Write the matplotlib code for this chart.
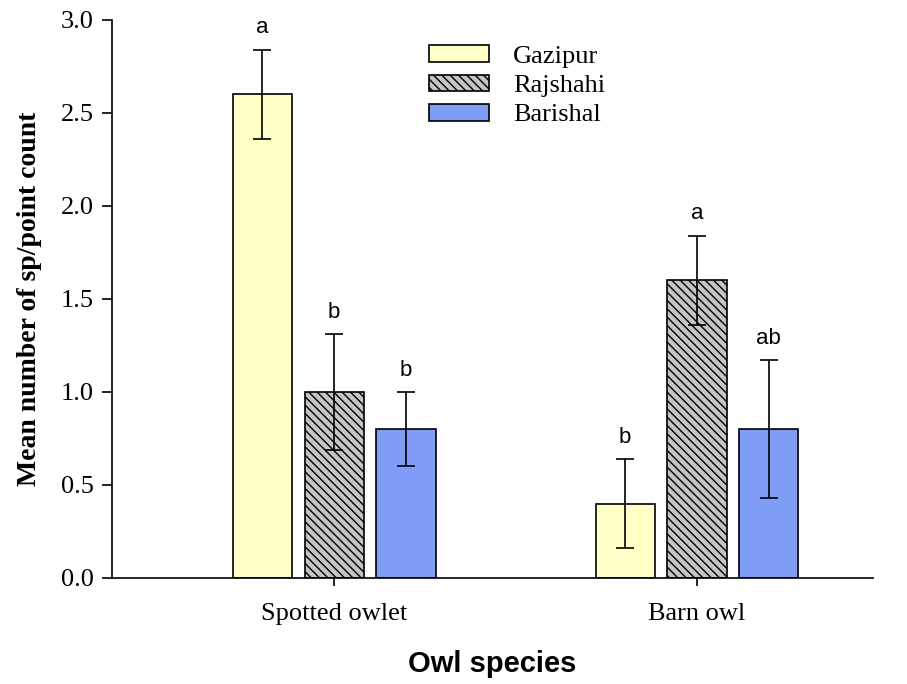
import numpy as np
import matplotlib
matplotlib.use("Agg")
import matplotlib.pyplot as plt

species = ["Spotted owlet", "Barn owl"]
sites = ["Gazipur", "Rajshahi", "Barishal"]
means = {"Gazipur": [2.6, 0.4], "Rajshahi": [1.0, 1.6], "Barishal": [0.8, 0.8]}
errs = {"Gazipur": [0.24, 0.24], "Rajshahi": [0.31, 0.24], "Barishal": [0.2, 0.37]}
letters = {"Gazipur": ["a", "b"], "Rajshahi": ["b", "a"], "Barishal": ["b", "ab"]}

colors = {"Gazipur": "#FFFFC8", "Rajshahi": "#C4C4C4", "Barishal": "#7F9CF7"}
hatches = {"Gazipur": None, "Rajshahi": "\\\\\\\\", "Barishal": None}

plt.rcParams["hatch.linewidth"] = 1.0
fig = plt.figure(figsize=(9.07, 6.84), dpi=100)
ax = fig.add_axes([0.1235, 0.155, 0.839, 0.816])

x = np.arange(len(species))
w = 0.163
step = 0.198
for i, s in enumerate(sites):
    pos = x + (i - 1) * step
    ax.bar(pos, means[s], width=w, color=colors[s], edgecolor="black",
           linewidth=1.2, hatch=hatches[s], label=s, zorder=2)
    ax.errorbar(pos, means[s], yerr=errs[s], fmt="none", ecolor="black",
                elinewidth=1.2, capsize=6.5, capthick=1.2, zorder=3)
    for p, m, e, l in zip(pos, means[s], errs[s], letters[s]):
        ax.text(p, m + e + 0.06, l, ha="center", va="bottom",
                fontsize=16, family="Liberation Sans")

ax.set_xlim(-0.612, 1.485)
ax.set_ylim(0, 3.0)
ax.set_yticks(np.arange(0, 3.01, 0.5))
ax.set_yticklabels(["%.1f" % v for v in np.arange(0, 3.01, 0.5)])
ax.set_xticks(x)
ax.set_xticklabels(species)
for lab in ax.get_xticklabels() + ax.get_yticklabels():
    lab.set_family("Liberation Serif")
    lab.set_fontsize(19)
ax.tick_params(axis="y", direction="out", length=7, width=1.2, pad=6)
ax.tick_params(axis="x", direction="out", length=6, width=1.2, pad=12)
ax.spines["top"].set_visible(False)
ax.spines["right"].set_visible(False)
ax.spines["left"].set_linewidth(1.2)
ax.spines["bottom"].set_linewidth(1.2)

ax.set_ylabel("Mean number of sp/point count", family="Liberation Serif",
              fontweight="bold", fontsize=20, labelpad=14)
ax.set_xlabel("Owl species", family="Liberation Sans", fontweight="bold",
              fontsize=21, labelpad=18)

leg = ax.legend(loc="upper left", bbox_to_anchor=(0.385, 0.997), frameon=False,
                prop={"family": "Liberation Serif", "size": 19},
                handlelength=2.3, handleheight=0.6, handletextpad=0.9,
                labelspacing=0.25)

fig.savefig("out.png", dpi=100)
